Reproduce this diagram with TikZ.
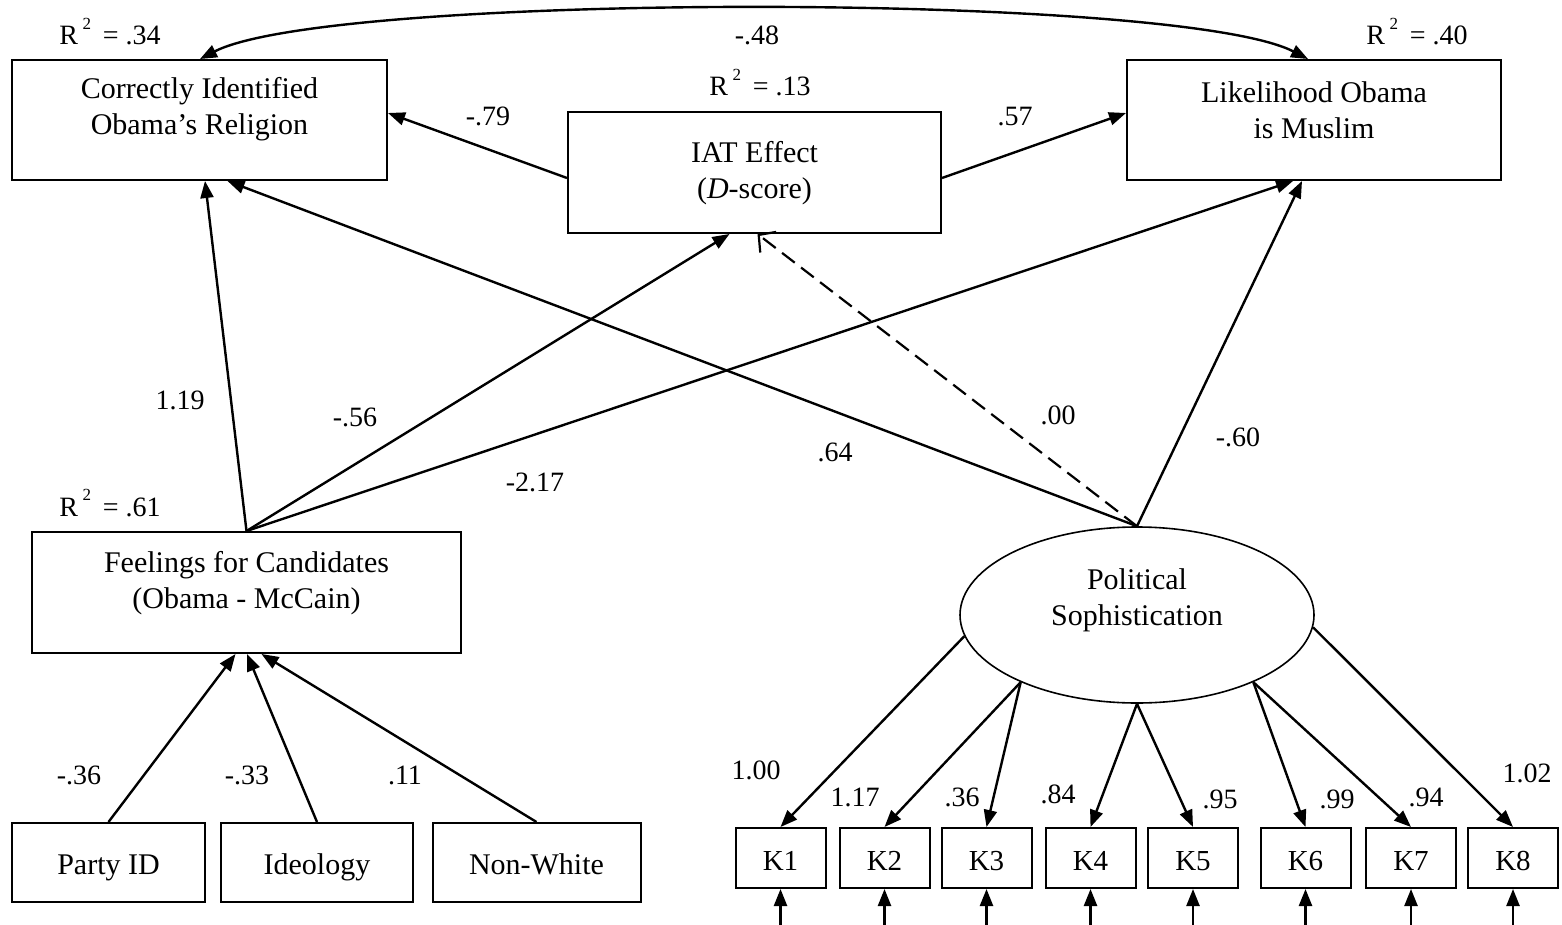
\documentclass[tikz,border=0pt]{standalone}
\usepackage{fontspec}
\setmainfont{Liberation Serif}
\usetikzlibrary{arrows.meta,shapes.geometric,calc}
\newcommand{\rsq}[1]{R\,\raisebox{0.55em}{\fontsize{17}{17}\selectfont 2}\, = #1}
\begin{document}
\begin{tikzpicture}[x=1pt,y=-1pt,
  box/.style={draw,line width=2pt,inner sep=0pt},
  txt/.style={font=\fontsize{30}{36}\selectfont,align=center,inner sep=0pt},
  one/.style={text height=24pt,text depth=0pt},
  lab/.style={font=\fontsize{28}{34}\selectfont,anchor=base,inner sep=0pt},
  arr/.style={line width=2.4pt,-{Triangle[length=17pt,width=13pt]}},
  darr/.style={line width=2.2pt,dash pattern=on 16pt off 8pt,-{Straight Barb[length=12pt,width=26pt,line width=2.2pt]}},
  kbox/.style={box,minimum width=90pt,minimum height=60pt,font=\fontsize{29}{34}\selectfont,one},
]
\useasboundingbox (0,0) rectangle (1562,925);

% boxes
\node[box,minimum width=375pt,minimum height=120pt] (cor) at (199.5,120) {};
\node[txt] (cort) at (199.5,109) {Correctly Identified\\Obama's Religion};
\node[box,minimum width=373pt,minimum height=121pt] (iat) at (754.5,172.5) {};
\node[txt] (iatt) at (754.5,173) {IAT Effect\\(\textit{D}-score)};
\node[box,minimum width=374pt,minimum height=120pt] (lik) at (1314,120) {};
\node[txt] (likt) at (1314,110) {Likelihood Obama\\is Muslim};
\node[box,minimum width=429pt,minimum height=121pt] (feel) at (246.5,592.5) {};
\node[txt] (feelt) at (246.5,583) {Feelings for Candidates\\(Obama - McCain)};

\node[box,minimum width=193pt,minimum height=79pt,txt,one] (party) at (108.5,862.5) {Party ID};
\node[box,minimum width=192pt,minimum height=79pt,txt,one] (ideo) at (317,862.5) {Ideology};
\node[box,minimum width=208pt,minimum height=79pt,txt,one] (nonw) at (536.5,862.5) {Non-White};

\node[draw,ellipse,line width=1.6pt,minimum width=354pt,minimum height=176pt,inner sep=0pt] (ps) at (1137,615) {};
\node[txt] (pst) at (1137,600) {Political\\Sophistication};

\node[kbox] (k1) at (780.5,858) {K1};
\node[kbox] (k2) at (884.5,858) {K2};
\node[kbox] (k3) at (986.5,858) {K3};
\node[kbox] (k4) at (1090.5,858) {K4};
\node[kbox] (k5) at (1193,858) {K5};
\node[kbox] (k6) at (1305.5,858) {K6};
\node[kbox] (k7) at (1411,858) {K7};
\node[kbox] (k8) at (1513,858) {K8};

% R squared labels
\node[lab] (r1) at (110,45) {\rsq{.34}};
\node[lab] (r2) at (760,96) {\rsq{.13}};
\node[lab] (r3) at (1417,45) {\rsq{.40}};
\node[lab] (r4) at (110,516) {\rsq{.61}};

% curved double arrow
\draw[line width=2.4pt,{Triangle[length=17pt,width=13pt]}-{Triangle[length=17pt,width=13pt]}]
  ([xshift=0.5pt]cor.north) .. controls (330,-8) and (1178,-8) .. ([xshift=-6pt]lik.north);
\node[lab] (l48) at (757,45) {-.48};

% IAT to outcomes
\draw[arr] ([yshift=-5.5pt]iat.west) -- ([yshift=7pt]cor.east);
\draw[arr] ([yshift=-5.5pt]iat.east) -- ([yshift=7pt]lik.west);
\node[lab] (l79) at (488,126) {-.79};
\node[lab] (l57) at (1015,126) {.57};

% from Feelings
\draw[arr] (feel.north) -- ([xshift=5.5pt]cor.south);
\draw[arr] (feel.north) -- ([xshift=-25pt]iat.south);
\draw[arr] (feel.north) -- ([xshift=-21pt]lik.south);
\node[lab] (l119) at (180,409) {1.19};
\node[lab] (l56) at (355,426) {-.56};
\node[lab] (l217) at (535,491) {-2.17};

% from Political Sophistication
\draw[arr] (ps.north) -- ([xshift=28pt]cor.south);
\draw[darr] (ps.north) -- ([xshift=3pt]iat.south);
\draw[arr] (ps.north) -- ([xshift=-12pt]lik.south);
\node[lab] (l64) at (835,461) {.64};
\node[lab] (l00) at (1058,424) {.00};
\node[lab] (l60) at (1238,446) {-.60};

% into Feelings
\draw[arr] (party.north) -- ([xshift=-11pt]feel.south);
\draw[arr] (ideo.north) -- ([xshift=0.5pt]feel.south);
\draw[arr] (nonw.north) -- ([xshift=15pt]feel.south);
\node[lab] (l36) at (79,784) {-.36};
\node[lab] (l33) at (247,784) {-.33};
\node[lab] (l11) at (405,784) {.11};

% loadings
\draw[arr] (ps.187) -- (k1.north);
\draw[arr] (ps.210) -- (k2.north);
\draw[arr] (ps.210) -- (k3.north);
\draw[arr] (ps.south) -- (k4.north);
\draw[arr] (ps.south) -- (k5.north);
\draw[arr] (ps.330) -- (k6.north);
\draw[arr] (ps.330) -- (k7.north);
\draw[arr] (ps.356) -- (k8.north);
\node[lab] (a1) at (756,779) {1.00};
\node[lab] (a2) at (855,806) {1.17};
\node[lab] (a3) at (962,806) {.36};
\node[lab] (a4) at (1058,803) {.84};
\node[lab] (a5) at (1220,808) {.95};
\node[lab] (a6) at (1337,808) {.99};
\node[lab] (a7) at (1426,806) {.94};
\node[lab] (a8) at (1527,782) {1.02};

% error arrows
\foreach \k in {1,...,8}{
  \coordinate (u\k) at ([yshift=-37pt]k\k.south);
  \draw[arr] (u\k) -- (k\k.south);
}
\end{tikzpicture}
\end{document}
